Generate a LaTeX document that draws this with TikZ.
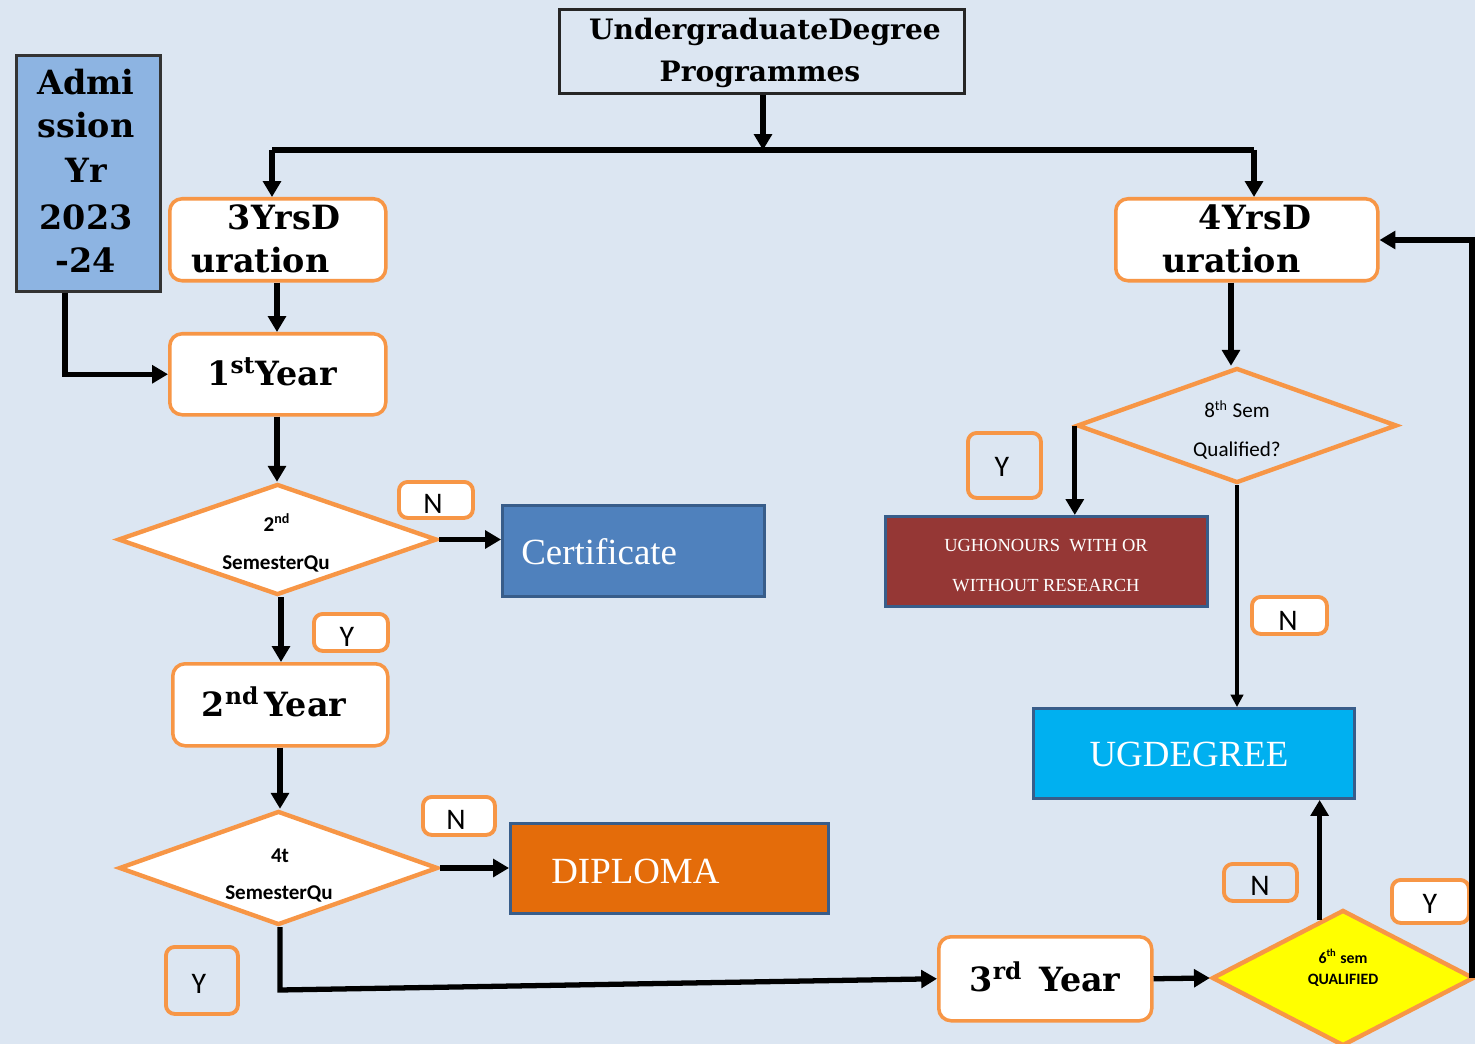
\documentclass[tikz,border=0pt]{standalone}
\usepackage{fontspec}
\setmainfont{Liberation Serif}
\newfontfamily\carl{Carlito}
\newfontfamily\dvs{DejaVu Serif}
\usetikzlibrary{shapes.geometric,arrows.meta}
\definecolor{bg}{RGB}{220,230,242}
\definecolor{org}{RGB}{247,150,70}
\definecolor{bord}{RGB}{56,93,138}
\definecolor{admc}{RGB}{141,180,226}
\definecolor{certc}{RGB}{79,129,189}
\definecolor{dipc}{RGB}{228,108,10}
\definecolor{ugdc}{RGB}{0,176,240}
\definecolor{ughc}{RGB}{149,55,53}
\definecolor{yel}{RGB}{255,255,0}
\def\pxu{0.02cm}
\begin{document}
\begin{tikzpicture}[x=0.02cm,y=-0.02cm,
  rbox/.style={draw=org, line width=2pt, fill=white, rounded corners=7pt, inner sep=0pt, anchor=north west},
  sbox/.style={draw=bord, line width=1.7pt, inner sep=0pt, anchor=north west},
  lab/.style={draw=org, line width=2.2pt, rounded corners=5pt, inner sep=0pt, anchor=north west},
  dia/.style={diamond, draw=org, line width=2.5pt, inner sep=0pt},
  big/.style={font=\dvs\fontsize{19}{23}\selectfont\bfseries, inner sep=0pt, anchor=base},
  lbl/.style={font=\carl\fontsize{17}{20}\selectfont, inner sep=0pt, anchor=base},
  ln/.style={line width=3pt},
  arr/.style={line width=3pt, -{Triangle[length=9pt,width=10pt]}},
  tarr/.style={line width=2pt, -{Triangle[length=7pt,width=7pt]}}]
\fill[bg] (0,0) rectangle (1475,1044);
\useasboundingbox (0,0) rectangle (1475,1044);

% top box
\node[draw=black!85, line width=1.7pt, inner sep=0pt, anchor=north west, minimum width=405*\pxu, minimum height=84*\pxu] (top) at (558,8) {};
\node[big, font=\dvs\fontsize{16}{20}\selectfont\bfseries] at (765,40) {UndergraduateDegree};
\node[big, font=\dvs\fontsize{16}{20}\selectfont\bfseries] at (760,82) {Programmes};

% admission
\node[draw=black!80, line width=1.7pt, fill=admc, inner sep=0pt, anchor=north west, minimum width=144*\pxu, minimum height=236*\pxu] (adm) at (15,54) {};
\node[big] at (86,95) {Admi};
\node[big] at (86,138) {ssion};
\node[big] at (86,183) {Yr};
\node[big] at (86,230) {2023};
\node[big] at (86,273) {-24};

% 3 yrs
\node[rbox, minimum width=216*\pxu, minimum height=82*\pxu] (y3d) at (168,197) {};
\node[big] at (284,230) {3YrsD};
\node[big, anchor=base west] at (191,273) {uration};

% 4 yrs
\node[rbox, minimum width=262*\pxu, minimum height=82*\pxu] (y4d) at (1114,197) {};
\node[big] at (1255,230) {4YrsD};
\node[big, anchor=base west] at (1162,273) {uration};

% 1st year
\node[rbox, minimum width=216*\pxu, minimum height=81*\pxu] (yr1) at (168,332) {};
\node[big] at (272,385) {1\textsuperscript{st}Year};

% 2nd year
\node[rbox, minimum width=215*\pxu, minimum height=82*\pxu] (yr2) at (171,662) {};
\node[big] at (274,716) {2\textsuperscript{nd}\,Year};

% 3rd year
\node[rbox, minimum width=213*\pxu, minimum height=84*\pxu] (yr3) at (937,935) {};
\node[big] at (1045,991) {3\textsuperscript{rd}\enspace Year};

% diamonds
\node[dia, fill=white, minimum width=319*\pxu, minimum height=111*\pxu] (d1) at (277.5,539.5) {};
\node[font=\carl\bfseries\fontsize{12}{14}\selectfont, inner sep=0pt, anchor=base] at (277,531) {2\textsuperscript{nd}};
\node[font=\carl\bfseries\fontsize{12}{14}\selectfont, inner sep=0pt, anchor=base] at (276,569) {SemesterQu};

\node[dia, fill=white, minimum width=319*\pxu, minimum height=114*\pxu] (d2) at (278.5,868) {};
\node[font=\carl\bfseries\fontsize{12}{14}\selectfont, inner sep=0pt, anchor=base] at (280,862) {4t};
\node[font=\carl\bfseries\fontsize{12}{14}\selectfont, inner sep=0pt, anchor=base] at (279,899) {SemesterQu};

\node[dia, minimum width=320*\pxu, minimum height=115*\pxu] (d8) at (1237,425.5) {};
\node[font=\carl\fontsize{12}{14}\selectfont, inner sep=0pt, anchor=base] at (1237,418) {8\textsuperscript{th} Sem};
\node[font=\carl\fontsize{12}{14}\selectfont, inner sep=0pt, anchor=base] at (1237,457) {Qualified?};

\node[dia, fill=yel, minimum width=262*\pxu, minimum height=136*\pxu] (yd) at (1343,978) {};
\node[font=\carl\bfseries\fontsize{9}{11}\selectfont, inner sep=0pt, anchor=base] at (1343,963) {6\textsuperscript{th} sem};
\node[font=\carl\bfseries\fontsize{9}{11}\selectfont, inner sep=0pt, anchor=base] at (1343,984) {QUALIFIED};

% outcome boxes
\node[sbox, fill=certc, minimum width=262*\pxu, minimum height=91*\pxu] (cert) at (501,504) {};
\node[font=\fontsize{21}{25}\selectfont, text=white, inner sep=0pt, anchor=base west] at (521,564) {Certificate};

\node[sbox, fill=dipc, minimum width=318*\pxu, minimum height=90*\pxu] (dip) at (509,822) {};
\node[font=\fontsize{21}{25}\selectfont, text=white, inner sep=0pt, anchor=base west] at (551,883) {DIPLOMA};

\node[sbox, fill=ugdc, minimum width=321*\pxu, minimum height=90*\pxu] (ugd) at (1032,707) {};
\node[font=\fontsize{21}{25}\selectfont, text=white, inner sep=0pt, anchor=base] at (1189,766) {UGDEGREE};

\node[sbox, fill=ughc, minimum width=322*\pxu, minimum height=90*\pxu] (ugh) at (884,515) {};
\node[font=\fontsize{10.5}{12}\selectfont, text=white, inner sep=0pt, anchor=base] at (1046,551) {UGHONOURS\ \ WITH OR};
\node[font=\fontsize{10.5}{12}\selectfont, text=white, inner sep=0pt, anchor=base] at (1046,591) {WITHOUT RESEARCH};

% labels
\node[lab, fill=white, minimum width=74*\pxu, minimum height=36*\pxu] (n1) at (397,480) {};
\node[lbl] at (433,513) {N};
\node[lab, fill=white, minimum width=74*\pxu, minimum height=37*\pxu] (ya) at (312,612) {};
\node[lbl] at (347,646) {Y};
\node[lab, fill=white, minimum width=72*\pxu, minimum height=38*\pxu] (n2) at (421,795) {};
\node[lbl] at (456,829) {N};
\node[lab, minimum width=72*\pxu, minimum height=67*\pxu] (yb) at (164,945) {};
\node[lbl] at (199,993) {Y};
\node[lab, minimum width=73*\pxu, minimum height=65*\pxu] (yc) at (966,431) {};
\node[lbl] at (1002,477) {Y};
\node[lab, fill=white, minimum width=75*\pxu, minimum height=37*\pxu] (n3) at (1250,595) {};
\node[lbl] at (1288,630) {N};
\node[lab, minimum width=73*\pxu, minimum height=37*\pxu] (n4) at (1222,862) {};
\node[lbl] at (1260,895) {N};
\node[lab, fill=white, minimum width=77*\pxu, minimum height=43*\pxu] (yd4) at (1390,878) {};
\node[lbl] at (1430,913) {Y};

% connectors
\coordinate (hl) at (763,150);
\coordinate (hlL) at (272,150);
\coordinate (hlR) at (1254,150);
\draw[arr] (top.south -| hl) -- (hl);
\draw[ln] (hlL) -- (hlR);
\draw[arr] (hlL) -- (hlL |- y3d.north);
\draw[arr] (hlR) -- (hlR |- y4d.north);
\draw[arr] (y3d.south -| 277,0) -- (yr1.north -| 277,0);
\draw[arr] (adm.south -| 65,0) |- (yr1.west);
\draw[arr] (yr1.south -| 277,0) -- (d1.north -| 277,0);
\draw[arr] (d1.east) -- (d1.east -| cert.west);
\draw[arr] (d1.south -| 281,0) -- (yr2.north -| 281,0);
\draw[arr] (yr2.south -| 280,0) -- (d2.north -| 280,0);
\draw[arr] (d2.east) -- (d2.east -| dip.west);
\coordinate (c1) at (280,990);
\draw[arr] (d2.south -| 280,0) -- (c1) -- (yr3.west);
\draw[arr] (yr3.east) -- (yd.west);
\draw[arr] (yd.112.5) -- (yd.112.5 |- ugd.south);
\coordinate (c2) at (1472,240);
\draw[arr] (yd.east -| 1472,0) -- (c2) -- (c2 -| y4d.east);
\draw[arr] (y4d.south -| 1231,0) -- (d8.north -| 1231,0);
\draw[arr] (d8.west) -- (d8.west |- ugh.north);
\draw[tarr] (d8.south) -- (d8.south |- ugd.north);
\end{tikzpicture}
\end{document}
